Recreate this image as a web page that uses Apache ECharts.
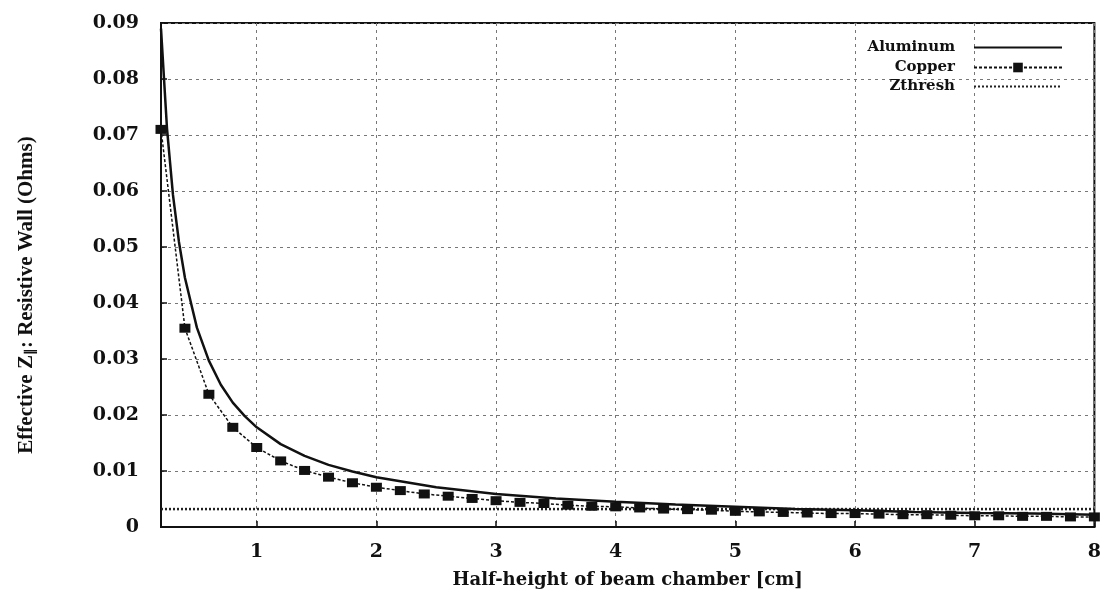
<!DOCTYPE html>
<html>
<head>
<meta charset="utf-8">
<script src="https://cdn.jsdelivr.net/npm/echarts@6/dist/echarts.min.js"></script>
<style>
  html, body { margin: 0; padding: 0; background: #fff; }
  #chart { width: 1104px; height: 602px; }
</style>
</head>
<body>
<div id="chart"></div>
<script>
// values
const alX = [0.2, 0.25, 0.3, 0.35, 0.4, 0.5, 0.6, 0.7, 0.8, 0.9, 1.0, 1.2, 1.4, 1.6, 1.8, 2.0,
  2.5, 3.0, 3.5, 4.0, 4.5, 5.0, 5.5, 6.0, 6.5, 7.0, 7.5, 8.0];
const alY = [0.089, 0.0712, 0.0593, 0.0509, 0.0445, 0.0356, 0.0297, 0.0254, 0.0222, 0.0198, 0.0178,
  0.0148, 0.0127, 0.0111, 0.0099, 0.0089, 0.0071, 0.0059, 0.0051, 0.0045, 0.0040, 0.0036,
  0.0032, 0.0030, 0.0027, 0.0025, 0.0024, 0.0022];

const cuX = [0.2, 0.4, 0.6, 0.8, 1.0, 1.2, 1.4, 1.6, 1.8, 2.0, 2.2, 2.4, 2.6, 2.8, 3.0, 3.2, 3.4,
  3.6, 3.8, 4.0, 4.2, 4.4, 4.6, 4.8, 5.0, 5.2, 5.4, 5.6, 5.8, 6.0, 6.2, 6.4, 6.6, 6.8, 7.0,
  7.2, 7.4, 7.6, 7.8, 8.0];
const cuY = [0.0710, 0.0355, 0.0237, 0.0178, 0.0142, 0.0118, 0.0101, 0.0089, 0.0079, 0.0071,
  0.0065, 0.0059, 0.0055, 0.0051, 0.0047, 0.0044, 0.0042, 0.0039, 0.0037, 0.0036, 0.0034,
  0.0032, 0.0031, 0.0030, 0.0028, 0.0027, 0.0026, 0.0025, 0.0024, 0.0024, 0.0023, 0.0022,
  0.0022, 0.0021, 0.0020, 0.0020, 0.0019, 0.0019, 0.0018, 0.0018];

const threshX = [0.2, 8.0];
const threshY = [0.0032, 0.0032];

const seriesNames = ['Aluminum', 'Copper', 'Zthresh'];

const zip = (xs, ys) => xs.map((x, i) => [x, ys[i]]);

const chart = echarts.init(document.getElementById('chart'));

const tickFont = {
  fontFamily: 'DejaVu Serif',
  fontWeight: 'bold',
  fontSize: 19,
  color: '#111'
};

// one legend per row so the line samples line up on the right
const legendRow = (name, top, hideSymbol) => ({
  data: [hideSymbol ? { name: name, itemStyle: { opacity: 0 } } : name],
  right: 36,
  top: top,
  align: 'right',
  orient: 'vertical',
  itemWidth: 88,
  itemHeight: 12,
  textStyle: {
    fontFamily: 'DejaVu Serif',
    fontWeight: 'bold',
    fontSize: 15,
    color: '#111',
    padding: [0, 14, 0, 0]
  }
});

const option = {
  animation: false,
  backgroundColor: '#fff',
  grid: {
    left: 161,
    right: 5,
    top: 23,
    bottom: 75,
    show: true,
    borderColor: '#111',
    borderWidth: 2,
    backgroundColor: 'transparent'
  },
  legend: [
    legendRow(seriesNames[0], 35, true),
    legendRow(seriesNames[1], 55, false),
    legendRow(seriesNames[2], 74, true)
  ],
  xAxis: {
    type: 'value',
    min: 0.2,
    max: 8,
    splitNumber: 8,
    minInterval: 1,
    maxInterval: 1,
    name: 'Half-height of beam chamber [cm]',
    nameLocation: 'middle',
    nameGap: 44,
    nameTextStyle: {
      fontFamily: 'DejaVu Serif',
      fontWeight: 'bold',
      fontSize: 18,
      color: '#111'
    },
    axisLine: { show: true, lineStyle: { color: '#111', width: 2 } },
    axisTick: { show: true, inside: true, length: 6, lineStyle: { color: '#111', width: 1.5 } },
    axisLabel: {
      ...tickFont,
      margin: 16,
      showMinLabel: false,
      formatter: v => String(Math.round(v))
    },
    splitLine: { show: true, lineStyle: { color: '#777', type: [3, 4], width: 1 } }
  },
  yAxis: {
    type: 'value',
    min: 0,
    max: 0.09,
    interval: 0.01,
    name: '{a|Effective Z}{s|∥}{a|: Resistive Wall (Ohms)}',
    nameLocation: 'middle',
    nameGap: 124,
    nameTextStyle: {
      padding: [0, 40, 0, 0],
      rich: {
        a: { fontFamily: 'Liberation Serif', fontWeight: 'bold', fontSize: 21, color: '#111' },
        s: { fontFamily: 'Liberation Serif', fontWeight: 'bold', fontSize: 13, color: '#111', verticalAlign: 'bottom', padding: [8, 0, 0, 0] }
      }
    },
    axisLine: { show: true, lineStyle: { color: '#111', width: 2 } },
    axisTick: { show: true, inside: true, length: 6, lineStyle: { color: '#111', width: 1.5 } },
    axisLabel: {
      ...tickFont,
      margin: 22,
      formatter: v => (v === 0 ? '0' : v.toFixed(2))
    },
    splitLine: { show: true, lineStyle: { color: '#777', type: [3, 4], width: 1 } }
  },
  series: [
    {
      name: seriesNames[0],
      type: 'line',
      data: zip(alX, alY),
      symbol: 'none',
      color: '#111',
      lineStyle: { color: '#111', width: 2.5 },
      z: 3
    },
    {
      name: seriesNames[1],
      type: 'line',
      data: zip(cuX, cuY),
      symbol: 'rect',
      symbolSize: [11, 9],
      showAllSymbol: true,
      color: '#111',
      itemStyle: { color: '#111' },
      lineStyle: { color: '#111', width: 1.5, type: [3, 2] },
      z: 4
    },
    {
      name: seriesNames[2],
      type: 'line',
      data: zip(threshX, threshY),
      symbol: 'none',
      color: '#222',
      lineStyle: { color: '#222', width: 2.5, type: [2, 2] },
      z: 2
    }
  ]
};

chart.setOption(option);
</script>
</body>
</html>
